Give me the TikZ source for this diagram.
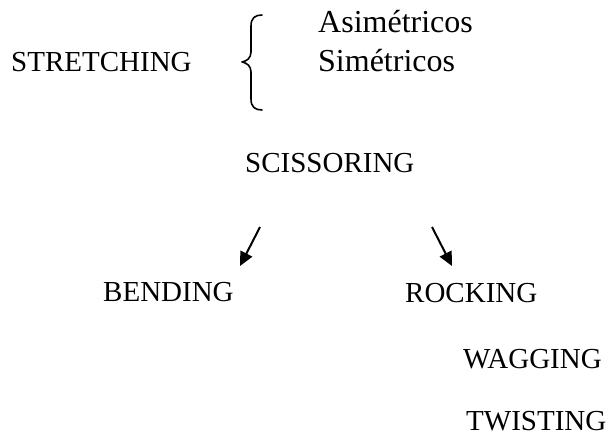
\documentclass[tikz,border=0pt]{standalone}
\usepackage{fontspec}
\setmainfont{Liberation Serif}
\usetikzlibrary{arrows.meta}
\begin{document}
\begin{tikzpicture}[x=1pt,y=-1pt,
  lbl/.style={anchor=base west,inner sep=0pt,font=\fontsize{29}{34}\selectfont},
  sublbl/.style={anchor=base west,inner sep=0pt,font=\fontsize{32}{38}\selectfont},
  arr/.style={line width=2pt,-{Triangle[length=14pt,width=13pt]}},
  bracepath/.style={line width=1.6pt,line cap=round,line join=round}]
\useasboundingbox (0,0) rectangle (612,435);
\fill[white] (0,0) rectangle (612,435);

% mode labels
\node[lbl] (stretch) at (11,72) {STRETCHING};
\node[sublbl] (asim) at (318,33) {Asimétricos};
\node[sublbl] (sim) at (318,72) {Simétricos};
\node[lbl] (sciss) at (245,173) {SCISSORING};
\node[lbl] (bend) at (103,301) {BENDING};
\node[lbl] (rock) at (405,302) {ROCKING};
\node[lbl] (wag) at (463,368) {WAGGING};
\node[lbl] (twist) at (466,430) {TWISTING};

% curly brace grouping the two stretching variants
\draw[bracepath] (262,15) .. controls (255,15) and (251,18) .. (251,26)
  -- (251,52) .. controls (251,58) and (247,61) .. (242,62)
  .. controls (247,63) and (251,66) .. (251,72)
  -- (251,99) .. controls (251,107) and (255,110) .. (262,110);

% arrows pointing down to bending and rocking
\coordinate (a1s) at (260,227);
\coordinate (a1e) at (240,266);
\coordinate (a2s) at (432,227);
\coordinate (a2e) at (452,266);
\draw[arr] (a1s) -- (a1e);
\draw[arr] (a2s) -- (a2e);
\end{tikzpicture}
\end{document}
